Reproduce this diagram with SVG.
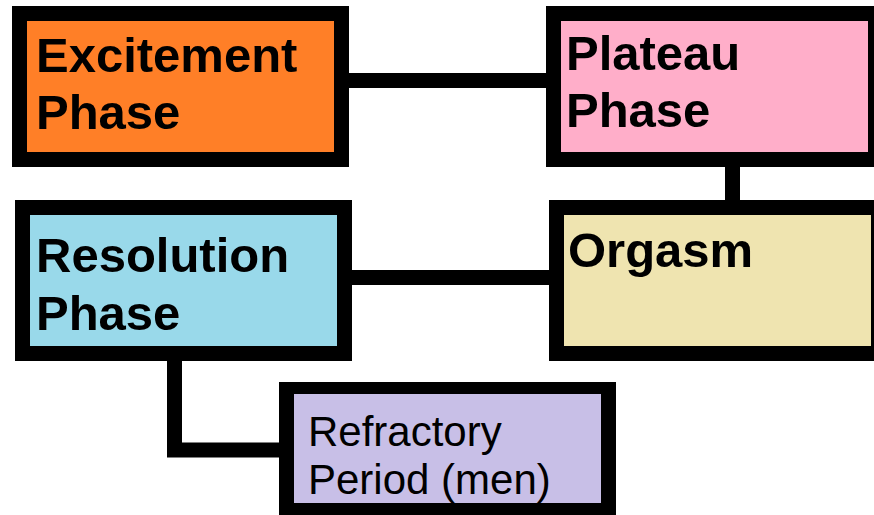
<svg xmlns="http://www.w3.org/2000/svg" width="874" height="515" viewBox="0 0 874 515">
<style>
.frame{fill:#000}
.big{font-family:"Liberation Sans",Arial,sans-serif;font-weight:bold;font-size:49px;fill:#000}
.small{font-family:"Liberation Sans",Arial,sans-serif;font-size:42px;fill:#000}
.conn{fill:none;stroke:#000;stroke-width:15;stroke-linejoin:miter}
</style>
<rect width="874" height="515" fill="#fff"/>
<g id="connectors">
<line class="conn" x1="349" y1="80.5" x2="546" y2="80.5"/>
<line class="conn" x1="732.5" y1="167" x2="732.5" y2="200"/>
<line class="conn" x1="351" y1="277.5" x2="549" y2="277.5"/>
<polyline class="conn" points="174.5,360 174.5,450 280,450"/>
</g>
<g id="excitement">
<rect class="frame" x="12" y="6" width="337" height="161"/>
<rect x="27" y="21" width="307" height="131" fill="#FF7F27"/>
<text class="big" x="36" y="72">Excitement</text>
<text class="big" x="36" y="129">Phase</text>
</g>
<g id="plateau">
<rect class="frame" x="546" y="6" width="337" height="161"/>
<rect x="561" y="21" width="307" height="131" fill="#FFAEC9"/>
<text class="big" x="566" y="70">Plateau</text>
<text class="big" x="566" y="127">Phase</text>
</g>
<g id="orgasm">
<rect class="frame" x="549" y="200" width="337" height="161"/>
<rect x="564" y="215" width="307" height="131" fill="#EFE4B0"/>
<text class="big" x="568" y="267">Orgasm</text>
</g>
<g id="resolution">
<rect class="frame" x="15" y="200" width="337" height="161"/>
<rect x="30" y="215" width="307" height="131" fill="#99D9EA"/>
<text class="big" x="36" y="272">Resolution</text>
<text class="big" x="36" y="330">Phase</text>
</g>
<g id="refractory">
<rect class="frame" x="279" y="382" width="337" height="145"/>
<rect x="294" y="394" width="307" height="109" fill="#C8BFE7"/>
<text class="small" x="308" y="446">Refractory</text>
<text class="small" x="308" y="494">Period (men)</text>
</g>
</svg>
